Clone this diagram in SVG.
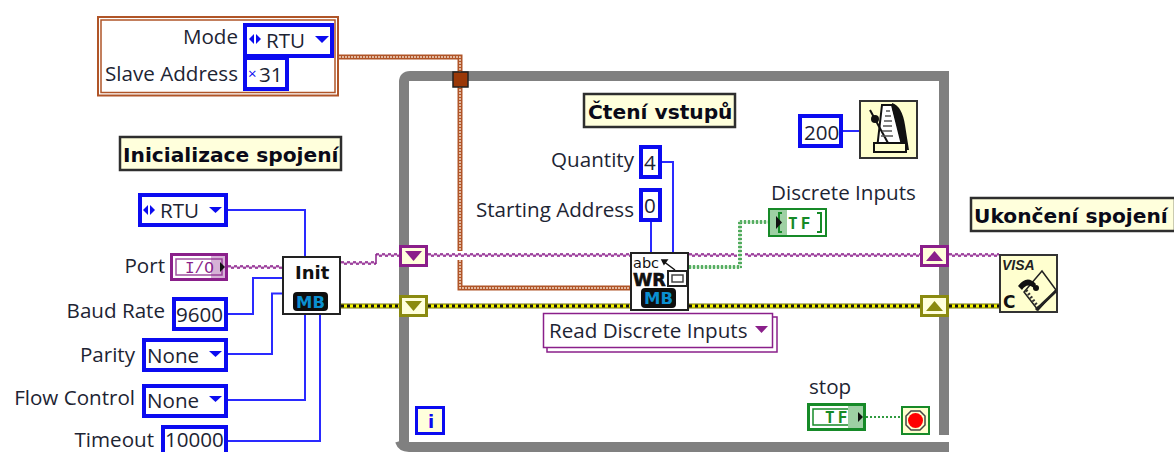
<svg xmlns="http://www.w3.org/2000/svg" width="1174" height="452" viewBox="0 0 1174 452">
<defs>
<style>
text{font-family:"Open Sans","Noto Sans","Liberation Sans",sans-serif;font-size:20.600px;fill:#1d2433}
.end{text-anchor:end}
.bold{font-family:"DejaVu Sans","Liberation Sans",sans-serif;font-weight:700;font-size:20.200px;fill:#0a0a18}
.note{fill:#ffffdc;stroke:#2e2e2e;stroke-width:2.500}
.num{fill:#fff;stroke:#0b0bf0;stroke-width:4}
.w{fill:none}
.blue{stroke:#2a2aff;stroke-width:2}
.pa{stroke:#8a1f8a;stroke-width:1.600;stroke-dasharray:3 3}
.pb{stroke:#8a1f8a;stroke-width:1.600;stroke-dasharray:3 3;stroke-dashoffset:3}
.p0{stroke:#c88fc8;stroke-width:1.500}
.ga{stroke:#2f9a3f;stroke-width:1.600;stroke-dasharray:2 2}
.g0{stroke:#cfe8cf;stroke-width:3}
.y0{stroke:#77770a;stroke-width:5}
.y1{stroke:#f5f500;stroke-width:3}
.y2{stroke:#111;stroke-width:3;stroke-dasharray:3 3}
.b0{stroke:#b05528;stroke-width:5}
.b1{stroke:#f3d9c6;stroke-width:1.500;stroke-dasharray:2 1}
.icon{fill:#fff;stroke:#222;stroke-width:2}
.cicon{fill:#ffffcf;stroke:#333;stroke-width:2}
.mbbg{fill:#0e0e0e}
.mb{font-family:"DejaVu Sans",sans-serif;font-weight:700;font-size:16.500px;fill:#0a8fd0;text-anchor:middle}
.tri{fill:#0b0bf0}
.tp{fill:#ffffdc;stroke:#8a1f8a;stroke-width:3}
.ty{fill:#ffffdc;stroke:#8a8a10;stroke-width:3}
</style>
</defs>

<g id="loop"><path d="M404 447V82Q404 76 410 76H944V435" fill="none" stroke="#808080" stroke-width="10"/><path d="M400 441Q402 447 409 447H949" fill="none" stroke="#808080" stroke-width="10"/></g>

<g id="connectors">
<path class="w blue" d="M228 210H305V256M228 314H253V278H282M228 354H272V293.500H282M228 400H305V314M228 441H320V314M843 131H859M662 162H673V252M651 222V252"/>
<path class="w y0" d="M341 306H399M428 306H630M689 306H920M949 306H999"/>
<path class="w y1" d="M341 306H399M428 306H630M689 306H920M949 306H999"/>
<path class="w y2" d="M341 306H399M428 306H630M689 306H920M949 306H999"/>
<path class="w b0" d="M339 57H460V251M460 260V288H630"/>
<path class="w b1" d="M339 57H460V251M460 260V288H630"/>
<path class="w p0" d="M228 267H282M341 263H376M376 255H399M428 255H630M689 255H737M745 255H920M949 255H999"/>
<path class="w pa" d="M228 266H282M341 262H376M376 254H399M428 254H630M689 254H737M745 254H920M949 254H999"/>
<path class="w pb" d="M228 268H282M341 264H376M376 256H399M428 256H630M689 256H737M745 256H920M949 256H999"/>
<path class="w" stroke="#8a1f8a" stroke-width="1.500" d="M376 254V264"/>
<path class="w g0" d="M689 267H740V222H768"/>
<path class="w ga" d="M689 268H741V223H768M689 266H739V221H768"/>
<path class="w" stroke="#2f9a3f" stroke-width="2" stroke-dasharray="2 2" d="M866 417H901"/>
</g>

<g id="cluster">
<rect x="98" y="17" width="240" height="78.500" fill="#fff" stroke="#b05528" stroke-width="2"/>
<rect x="101" y="20" width="234" height="72.500" fill="#fff" stroke="#b05528" stroke-width="1.500"/>
<text class="end" x="238" y="44">Mode</text>
<text class="end" x="238" y="81">Slave Address</text>
<rect class="num" x="245" y="25" width="87" height="31"/>
<polygon class="tri" points="249,39 254,34 254,44"/><polygon class="tri" points="256,34 261,39 256,44"/>
<text x="266" y="48">RTU</text>
<polygon class="tri" points="315,36 329,36 322,43"/>
<rect class="num" x="245" y="58" width="42" height="31"/>
<text x="259" y="82">31</text>
<text x="248" y="79" style="font-size:15px;fill:#0b0bf0">×</text>
</g>

<g id="note-init"><rect class="note" x="120" y="137" width="221" height="33"/><text class="bold" x="123" y="162">Inicializace spojení</text></g>
<g id="note-read"><rect class="note" x="584" y="94" width="151" height="33"/><text class="bold" x="588" y="119">Čtení vstupů</text></g>
<g id="note-close"><rect class="note" x="971" y="198" width="204" height="33"/><text class="bold" x="974" y="223">Ukončení spojení</text></g>

<g id="mode">
<rect class="num" x="140" y="195" width="86" height="30"/>
<polygon class="tri" points="143,210 148,205 148,215"/><polygon class="tri" points="150,205 155,210 150,215"/>
<text x="160" y="218">RTU</text>
<polygon class="tri" points="209,207 222,207 215.500,213"/>
</g>
<g id="port">
<text class="end" x="165" y="273">Port</text>
<rect x="171.500" y="254.500" width="55" height="25" fill="#fff" stroke="#8a1f8a" stroke-width="3"/>
<rect x="176" y="259" width="46" height="16" fill="#fff" stroke="#a050a0" stroke-width="1.500"/>
<rect x="211" y="256" width="16" height="22" fill="#8a1f8a" opacity=".35"/>
<text x="185" y="273" style="font-family:'Liberation Mono',monospace;font-size:16px;fill:#8a1f8a">I/O</text>
<polygon points="220,262 225,267 220,272" fill="#111"/>
</g>
<g id="baud"><text class="end" x="165" y="318">Baud Rate</text><rect class="num" x="174" y="299" width="52" height="30"/><text x="176" y="322">9600</text></g>
<g id="parity"><text class="end" x="135" y="362">Parity</text><rect class="num" x="144" y="340" width="82" height="30"/><text x="147" y="363">None</text><polygon class="tri" points="209,351 222,351 215.500,357"/></g>
<g id="flow"><text class="end" x="135" y="405">Flow Control</text><rect class="num" x="144" y="386" width="82" height="30"/><text x="147" y="408">None</text><polygon class="tri" points="209,396 222,396 215.500,402"/></g>
<g id="timeout"><rect class="num" x="163" y="427" width="63" height="30"/><text class="end" x="154" y="447">Timeout</text><text x="165" y="447">10000</text></g>

<g id="init">
<rect class="icon" x="283" y="257" width="57" height="57"/>
<text x="295" y="279" style="font-family:'DejaVu Sans',sans-serif;font-weight:700;font-size:18px;fill:#111">Init</text>
<rect class="mbbg" x="293" y="292" width="35" height="19" rx="4"/>
<text class="mb" x="310.500" y="307.500">MB</text>
</g>

<g id="tunnels">
<rect class="tp" x="400.500" y="246.500" width="26" height="19"/><polygon points="405,251 422,251 413.500,261" fill="#8a1f8a"/>
<rect class="ty" x="400.500" y="296.500" width="26" height="19"/><polygon points="405,301 422,301 413.500,311" fill="#8a8a10"/>
<rect class="tp" x="921.500" y="246.500" width="26" height="19"/><polygon points="926,261 943,261 934.500,251" fill="#8a1f8a"/>
<rect class="ty" x="921.500" y="296.500" width="26" height="19"/><polygon points="926,311 943,311 934.500,301" fill="#8a8a10"/>
<rect x="453" y="72" width="15" height="15" fill="#9a3808" stroke="#222" stroke-width="1.500"/>
</g>

<g id="wait">
<rect class="num" x="800" y="116" width="41" height="30"/><text x="804" y="140">200</text>
<rect class="cicon" x="860" y="101" width="57" height="57"/>
<path d="M882 105H892L903 149H877Z" fill="#fff" stroke="#111" stroke-width="2"/>
<path d="M892 103Q902 106 905 125Q907 138 909 150H904L892 108Z" fill="#111"/>
<path d="M874 152V143H906V152Z" fill="#ffffcf" stroke="#111" stroke-width="2"/>
<path d="M870 110L888 143" stroke="#111" stroke-width="2"/><circle cx="875" cy="119" r="4" fill="#111"/>
<path d="M886 111h4M885 116h6M884 121h8M883 126h9M882 131h10M881 136h12" stroke="#555" stroke-width="1.500"/>
</g>

<g id="quantity"><text class="end" x="634" y="167">Quantity</text><rect class="num" x="641" y="147" width="19" height="30"/><text x="644" y="170">4</text></g>
<g id="start"><text class="end" x="634" y="217">Starting Address</text><rect class="num" x="641" y="190" width="19" height="30"/><text x="644" y="213">0</text></g>

<g id="wr">
<rect class="icon" x="631" y="253" width="57" height="57"/>
<text x="633" y="268" style="font-family:'DejaVu Sans',sans-serif;font-size:14.500px;fill:#111">abc</text>
<path d="M663 261L675 270M662 260l5 0l-3 4z" stroke="#111" stroke-width="1.500" fill="#111"/>
<text x="633" y="286" style="font-family:'DejaVu Sans',sans-serif;font-weight:900;font-size:17.500px;stroke:#111;stroke-width:.6;fill:#111">WR</text>
<rect x="668" y="271" width="19" height="15" fill="#fff" stroke="#222" stroke-width="2"/><rect x="672" y="275" width="11" height="7" fill="none" stroke="#444" stroke-width="1.500"/>
<rect class="mbbg" x="641" y="288" width="35" height="20" rx="4"/>
<text class="mb" x="658.500" y="304">MB</text>
</g>

<g id="select">
<rect x="547" y="317" width="230" height="35" fill="#fff" stroke="#8a1f8a" stroke-width="1.500"/>
<rect x="543.500" y="313.500" width="229" height="34" fill="#fff" stroke="#8a1f8a" stroke-width="1.500"/>
<text x="549" y="338">Read Discrete Inputs</text>
<polygon points="755,326 768,326 761.500,333" fill="#8a1f8a"/>
</g>

<g id="discrete">
<text x="771" y="200">Discrete Inputs</text>
<rect x="769" y="209" width="57" height="27" fill="#fff" stroke="#168a28" stroke-width="2"/>
<rect x="770" y="210" width="17" height="25" fill="#9ed0a4"/>
<path d="M782 213h-3v19h3M817 213h4v19h-4" fill="none" stroke="#168a28" stroke-width="2"/>
<polygon points="776,216 782,222.500 776,229" fill="#111"/>
<text x="788" y="229" style="font-family:'DejaVu Sans Mono',monospace;font-weight:700;font-size:16px;letter-spacing:3px;fill:#168a28">TF</text>
</g>

<g id="stop-ctl">
<text x="809" y="394">stop</text>
<rect x="808.500" y="404.500" width="56" height="25" fill="#fff" stroke="#168a28" stroke-width="3"/>
<rect x="813" y="409" width="47" height="16" fill="#fff" stroke="#168a28" stroke-width="1.500"/>
<rect x="848" y="406" width="15" height="22" fill="#9ed0a4"/>
<text x="825" y="423" style="font-family:'DejaVu Sans Mono',monospace;font-weight:700;font-size:16px;letter-spacing:3px;fill:#168a28">TF</text>
<polygon points="858,412 863,417 858,422" fill="#111"/>
</g>
<g id="stop-term">
<rect x="902" y="407" width="27" height="27" fill="#ffffcf" stroke="#168a28" stroke-width="2"/>
<polygon points="911,411 920,411 925,416 925,425 920,430 911,430 906,425 906,416" fill="#ffffcf" stroke="#444" stroke-width="1.500"/>
<circle cx="915.500" cy="420.500" r="7.500" fill="#ff0000"/>
</g>
<g id="iter"><rect x="416.500" y="407.500" width="27" height="26" fill="#ffffdc" stroke="#0b0bf0" stroke-width="3"/><text x="431" y="428" text-anchor="middle" style="font-family:'DejaVu Sans',sans-serif;font-weight:700;font-size:18px;fill:#0b0bf0">i</text></g>

<g id="visa">
<rect class="cicon" x="1000" y="255" width="57" height="57"/>
<text x="1002" y="270" style="font-family:'Liberation Sans',sans-serif;font-style:italic;font-weight:700;font-size:14px;fill:#222">VISA</text>
<text x="1003" y="308" style="font-family:'DejaVu Sans',sans-serif;font-weight:700;font-size:17px;fill:#111">C</text>
<path d="M1042 271L1056 290L1038 310L1024 292Z" fill="#ffffcf" stroke="#222" stroke-width="1.500"/>
<path d="M1018 286Q1027 274 1036 284L1034 288Q1027 282 1022 290Z" fill="#111"/>
<path d="M1026 290L1038 307" stroke="#333" stroke-width="3" stroke-dasharray="2 2"/>
<circle cx="1036" cy="288" r="3" fill="#111"/>
<path d="M1036 310L1056 291" stroke="#222" stroke-width="3"/>
</g>
</svg>
